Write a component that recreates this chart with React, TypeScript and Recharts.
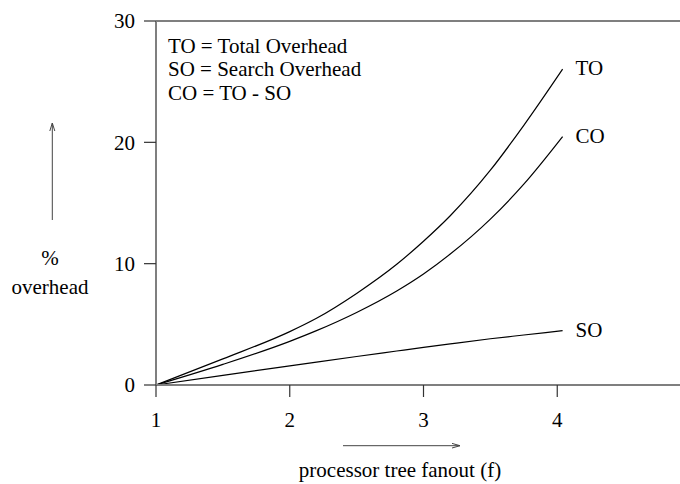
import React from 'react';
import { LineChart, Line, XAxis, YAxis, ReferenceLine, LabelList } from 'recharts';

// values
const fanout = [1, 1.5, 2, 2.2, 2.5, 2.8, 3, 3.2, 3.5, 3.75, 4.04];
const totalOverhead = [0, 2.15, 4.4, 5.5, 7.55, 9.95, 11.85, 13.95, 17.7, 21.4, 26.03];
const commOverhead = [0, 1.7, 3.6, 4.48, 5.98, 7.75, 9.15, 10.79, 13.67, 16.55, 20.47];
const searchOverhead = [0, 0.8, 1.58, 1.89, 2.35, 2.8, 3.1, 3.39, 3.81, 4.12, 4.48];

const xTicks = [1, 2, 3, 4];
const yTicks = [0, 10, 20, 30];
const legendLines = ['TO = Total Overhead', 'SO = Search Overhead', 'CO = TO - SO'];

const FONT = '"Liberation Serif", "Times New Roman", serif';
const AXIS = '#7f7f7f';

const rows = fanout.map((f, i) => ({
  f,
  to: totalOverhead[i],
  co: commOverhead[i],
  so: searchOverhead[i],
}));

const endLabel = (name: string) => (props: any) => {
  const { x, y, index } = props;
  if (index !== rows.length - 1) return null;
  return (
    <text x={x + 13} y={y - 1} dominantBaseline="central" fontSize={21} fontFamily={FONT} fill="#000">
      {name}
    </text>
  );
};

const tickStyle = { fontSize: 21, fill: '#000', fontFamily: FONT };

const App: React.FC = () => {
  return (
    <div style={{ position: 'relative', width: 680, height: 484, overflow: 'hidden', background: '#fff' }}>
      <style>{'body{margin:0;overflow:hidden}'}</style>
      <LineChart width={691} height={484} data={rows} margin={{ top: 21, right: 0, bottom: 0, left: 0 }}>
        <XAxis
          dataKey="f"
          type="number"
          domain={[1, 5]}
          ticks={xTicks}
          height={99}
          tickSize={12}
          tickMargin={15}
          tick={tickStyle}
          tickLine={{ stroke: '#333', strokeWidth: 1.2 }}
          axisLine={{ stroke: AXIS, strokeWidth: 2 }}
        />
        <YAxis
          type="number"
          domain={[0, 30]}
          ticks={yTicks}
          width={156}
          tickSize={12}
          tickMargin={9}
          tick={tickStyle}
          tickLine={{ stroke: '#333', strokeWidth: 1.2 }}
          axisLine={{ stroke: AXIS, strokeWidth: 2 }}
        />
        <ReferenceLine y={30} stroke={AXIS} strokeWidth={2} />
        <Line dataKey="to" type="monotone" stroke="#000" strokeWidth={1.2} dot={false} isAnimationActive={false}>
          <LabelList dataKey="to" content={endLabel('TO')} />
        </Line>
        <Line dataKey="co" type="monotone" stroke="#000" strokeWidth={1.2} dot={false} isAnimationActive={false}>
          <LabelList dataKey="co" content={endLabel('CO')} />
        </Line>
        <Line dataKey="so" type="monotone" stroke="#000" strokeWidth={1.2} dot={false} isAnimationActive={false}>
          <LabelList dataKey="so" content={endLabel('SO')} />
        </Line>
      </LineChart>

      <svg
        width={680}
        height={484}
        style={{ position: 'absolute', left: 0, top: 0, pointerEvents: 'none' }}
        fontFamily={FONT}
        fontSize={21}
      >
        {legendLines.map((t, i) => (
          <text key={t} x={168} y={52.5 + i * 23.5} fill="#000">
            {t}
          </text>
        ))}

        {/* y axis caption with arrow */}
        <line x1={52.3} y1={220} x2={52.3} y2={123} stroke="#444" strokeWidth={1} />
        <polyline points="49.8,131 52.3,123 54.8,131" fill="none" stroke="#444" strokeWidth={1} />
        <text x={50} y={265} textAnchor="middle" fill="#000">%</text>
        <text x={50} y={294} textAnchor="middle" fill="#000">overhead</text>

        {/* x axis caption with arrow */}
        <line x1={343} y1={445.7} x2={460} y2={445.7} stroke="#444" strokeWidth={1} />
        <polyline points="452,443.4 460,445.7 452,448" fill="none" stroke="#444" strokeWidth={1} />
        <text x={400} y={477} textAnchor="middle" fill="#000">processor tree fanout (f)</text>
      </svg>
    </div>
  );
};

export default App;
